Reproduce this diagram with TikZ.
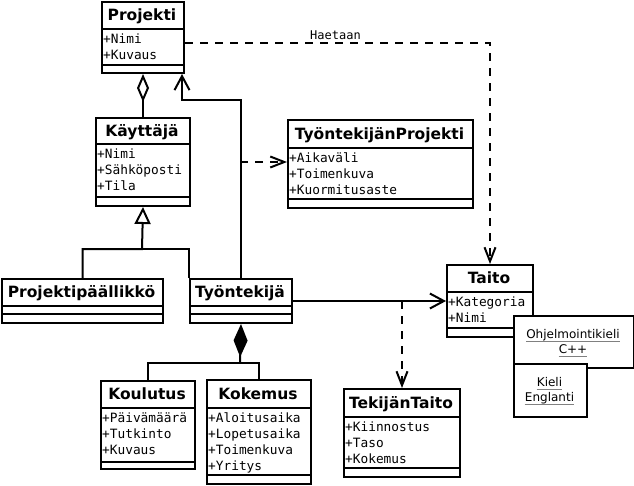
\documentclass[tikz,border=0pt]{standalone}
\usepackage{fontspec}
\setmainfont{DejaVu Sans}
\newfontfamily\monofont{DejaVu Sans Mono}
\usetikzlibrary{arrows.meta}
\tikzset{
  cls/.style={draw, line width=2pt, fill=white, inner sep=0pt, anchor=north west},
  ctitle/.style={font=\fontsize{15.5}{18}\selectfont\bfseries, inner sep=0pt, anchor=base},
  cattr/.style={font=\monofont\fontsize{12.8}{16}\selectfont, inner sep=0pt, anchor=base west},
  utext/.style={font=\fontsize{12}{15}\selectfont, inner sep=0pt, anchor=base},
  ul/.style={draw=gray, line width=1pt},
  conn/.style={line width=2pt},
  dep/.style={conn, dash pattern=on 8pt off 7pt},
  openv/.style={-{Straight Barb[length=14pt,width=15pt,line width=2pt]}},
  openvs/.style={-{Straight Barb[length=14pt,width=11pt,line width=2pt]}},
}
\newcommand\umlclass[9]{%
  \node[cls, minimum width={(#4-#2)*1pt}, minimum height={(#5-#3)*1pt}] (#1) at (#2,#3) {};
  \draw[line width=2pt] (#2,#6) -- (#4,#6) (#2,#7) -- (#4,#7);
  \node[ctitle] (#1-t) at ({(#2+#4)/2},{(#3+#6)/2+5.5}) {#8};
  \foreach \a [count=\i] in {#9} {\node[cattr] (#1-a\i) at (#2+2,#6+14.5+16*\i-16) {\a};}
}
\begin{document}
\begin{tikzpicture}[x=1pt,y=-1pt]
\useasboundingbox (0,0) rectangle (634,485);
% classes
\umlclass{projekti}{101}{1}{183}{72}{29}{65}{Projekti}{+Nimi,+Kuvaus}
\umlclass{kayttaja}{95}{117}{189}{205}{144}{197}{Käyttäjä}{+Nimi,+Sähköposti,+Tila}
\umlclass{pp}{1}{278}{162}{322}{306}{314}{Projektipäällikkö}{}
\umlclass{ty}{189}{278}{291}{322}{306}{314}{Työntekijä}{}
\umlclass{koulutus}{100}{380}{194}{468}{408}{462}{Koulutus}{+Päivämäärä,+Tutkinto,+Kuvaus}
\umlclass{kokemus}{206}{379}{310}{483}{408}{475}{Kokemus}{+Aloitusaika,+Lopetusaika,+Toimenkuva,+Yritys}
\umlclass{tp}{287}{119}{472}{207}{148}{199}{TyöntekijänProjekti}{+Aikaväli,+Toimenkuva,+Kuormitusaste}
\umlclass{taito}{446}{264}{532}{336}{292}{328}{Taito}{+Kategoria,+Nimi}
\umlclass{tt}{343}{388}{459}{476}{417}{468}{TekijänTaito}{+Kiinnostus,+Taso,+Kokemus}
% instance boxes
\node[cls, minimum width=120pt, minimum height=52pt] (ok) at (513,315) {};
\node[utext] (ok-1) at (573,338) {Ohjelmointikieli};
\node[utext] (ok-2) at (573,353) {C++};
\draw[ul] ([yshift=-3pt]ok-1.base west) -- ([yshift=-3pt]ok-1.base east);
\draw[ul] ([yshift=-3pt]ok-2.base west) -- ([yshift=-3pt]ok-2.base east);
\node[cls, minimum width=73pt, minimum height=53pt] (ki) at (513,363) {};
\node[utext] (ki-1) at (549.5,386) {Kieli};
\node[utext] (ki-2) at (549.5,401) {Englanti};
\draw[ul] ([yshift=-3pt]ki-1.base west) -- ([yshift=-3pt]ki-1.base east);
\draw[ul] ([yshift=-3pt]ki-2.base west) -- ([yshift=-3pt]ki-2.base east);
% connectors
\draw[conn, -{Diamond[open,length=28pt,width=12pt,line width=2pt]}] (kayttaja.north) -- (projekti.south);
\coordinate (bend) at (182,100);
\draw[conn, openv] (ty.north) |- (bend) -- (bend |- projekti.south);
\coordinate (ac) at (240,162);
\draw[dep, openvs] (ac) -- (tp.west |- ac);
\coordinate (genj) at (142,249);
\draw[conn, -{Triangle[open,length=17pt,width=16pt,line width=2pt]}] (pp.north) |- (genj) -- (kayttaja.south);
\draw[conn] (ty.north west) |- (genj);
\coordinate (compj) at (240,363);
\draw[conn, -{Diamond[length=33pt,width=14pt]}] (compj) -- (ty.south);
\draw[conn] (koulutus.north) |- (compj) -| (kokemus.north);
\draw[conn, openv] (ty.east) -- (taito.west);
\coordinate (tj) at (tt.north |- ty.east);
\draw[dep, openvs] (tj) -- (tt.north);
\draw[dep, openvs] ([yshift=-5.5pt]projekti.east) -| (taito.north);
\node[cattr, font=\monofont\fontsize{12}{14}\selectfont] (haetaan) at (310,39) {Haetaan};
\end{tikzpicture}
\end{document}
